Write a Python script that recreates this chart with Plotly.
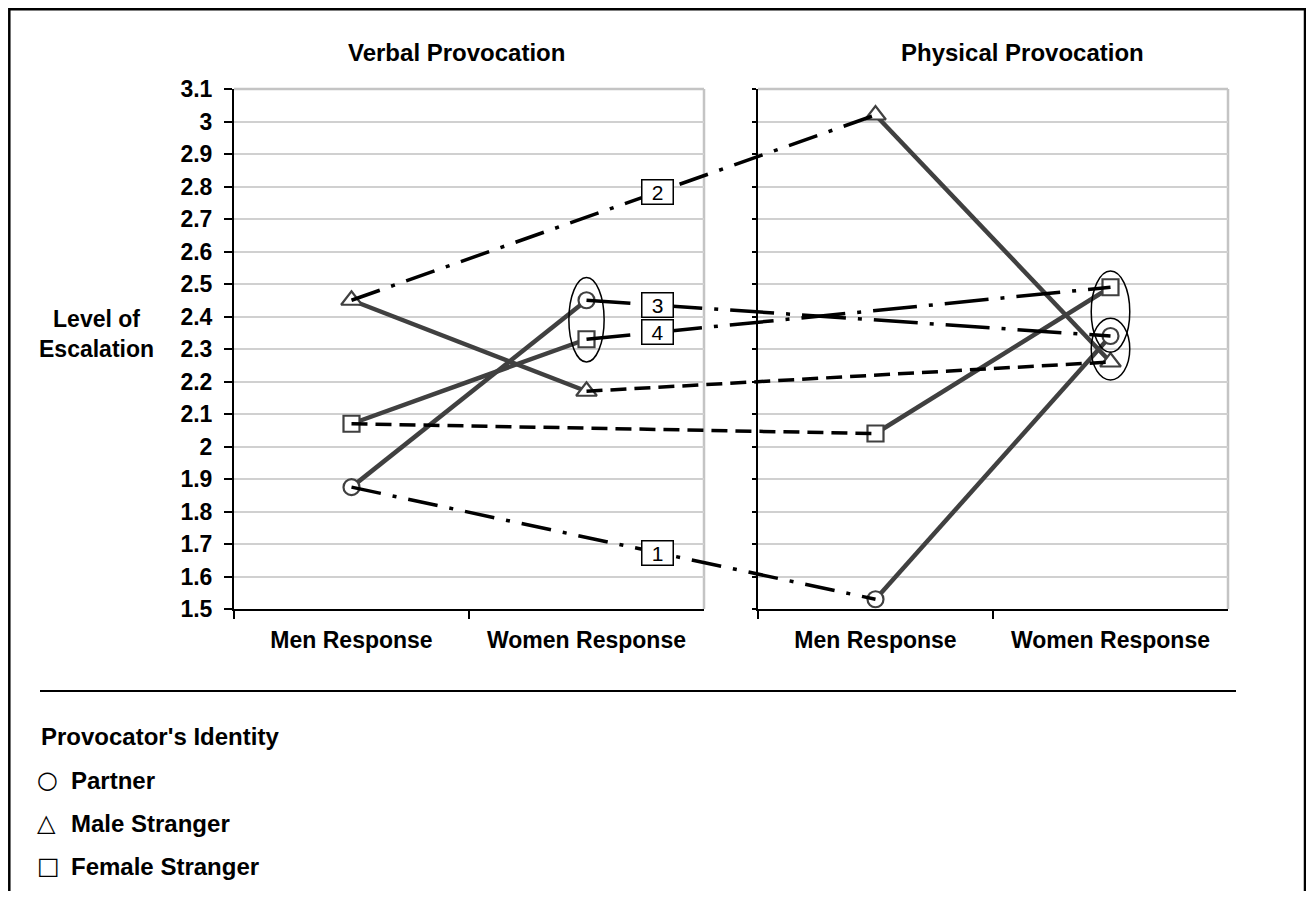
import numpy as np
import plotly.graph_objects as go

# window is 1314x899; the page body adds an 8px margin on every side
WIN_W, WIN_H = 1314, 899
OFF = 8
W, H = WIN_W - 2 * OFF, WIN_H - 2 * OFF

# ---------------- data ----------------
categories = ["Men Response", "Women Response"]
panel_titles = ["Verbal Provocation", "Physical Provocation"]
identities = ["Partner", "Male Stranger", "Female Stranger"]
identity_symbols = ["circle", "triangle-up", "square"]
legend_glyphs = ["\u25cb", "\u25b3", "\u25a1"]

verbal_partner = [1.875, 2.45]
verbal_male = [2.45, 2.17]
verbal_female = [2.07, 2.33]
physical_partner = [1.53, 2.34]
physical_male = [3.02, 2.26]
physical_female = [2.04, 2.49]

y_tick_values = [1.5, 1.6, 1.7, 1.8, 1.9, 2.0, 2.1, 2.2, 2.3, 2.4, 2.5,
                 2.6, 2.7, 2.8, 2.9, 3.0, 3.1]
y_tick_labels = ["1.5", "1.6", "1.7", "1.8", "1.9", "2", "2.1", "2.2", "2.3",
                 "2.4", "2.5", "2.6", "2.7", "2.8", "2.9", "3", "3.1"]

verbal = {"Partner": verbal_partner, "Male Stranger": verbal_male,
          "Female Stranger": verbal_female}
physical = {"Partner": physical_partner, "Male Stranger": physical_male,
            "Female Stranger": physical_female}

# cross-panel connections: (identity, category index, label, dash)
connections = [
    ("Partner", 0, "1", "30px,12px,4px,12px"),
    ("Male Stranger", 0, "2", "30px,12px,4px,12px"),
    ("Partner", 1, "3", "44px,12px,4px,12px"),
    ("Female Stranger", 1, "4", "44px,12px,4px,12px"),
    ("Female Stranger", 0, None, "16px,8px"),
    ("Male Stranger", 1, None, "16px,8px"),
]
label_x_offset = 0.30  # label boxes sit 0.30 category units right of Women (verbal)

# highlight ellipses: (panel, category index, identities enclosed, pad, half width)
ellipses = [
    (0, 1, ["Partner", "Female Stranger"], 0.07, 0.075),
    (1, 1, ["Partner", "Female Stranger"], 0.05, 0.082),
    (1, 1, ["Partner", "Male Stranger"], 0.055, 0.082),
]

# ---------------- geometry (window pixels) ----------------
L0, L1 = 234, 704
R0, R1 = 758, 1228
T, B = 89, 609
unit = (L1 - L0) / 2.0
shift = (R0 - L0) / unit


def px(x):
    return (x - OFF) / W


def py(y):
    return 1 - (y - OFF) / H


def cat_pos(panel, ci):
    return ci + panel * shift


FONT = "Liberation Sans, Arial, sans-serif"
DARK = "#404040"

fig = go.Figure()

panel_data = [verbal, physical]
axes = [("x", "y"), ("x2", "y2")]
for p in range(2):
    for ident, sym in zip(identities, identity_symbols):
        fig.add_trace(go.Scatter(
            x=categories, y=panel_data[p][ident], xaxis=axes[p][0], yaxis=axes[p][1],
            mode="lines+markers", showlegend=False, hoverinfo="skip",
            line=dict(color=DARK, width=4.5),
            marker=dict(symbol=sym, size=18 if "triangle" in sym else 16,
                        color="white", line=dict(color=DARK, width=2.2)),
        ))

annotations = []
for ident, ci, lab, dash in connections:
    xs = [cat_pos(0, ci), cat_pos(1, ci)]
    ys = [verbal[ident][ci], physical[ident][ci]]
    fig.add_trace(go.Scatter(
        x=xs, y=ys, xaxis="x3", yaxis="y3", mode="lines", showlegend=False,
        hoverinfo="skip", line=dict(color="black", width=3.5, dash=dash),
    ))
    if lab is not None:
        lx = cat_pos(0, 1) + label_x_offset
        ly = float(np.interp(lx, xs, ys))
        annotations.append(dict(
            x=lx, y=ly, xref="x3", yref="y3", text=lab, showarrow=False,
            font=dict(family=FONT, size=21, color="black"),
            bgcolor="white", bordercolor="black", borderwidth=1.5,
            borderpad=1, width=28, height=21, xanchor="center", yanchor="middle",
        ))

shapes = []
for p, ci, members, pad, hw in ellipses:
    vals = [panel_data[p][m][ci] for m in members]
    cx = cat_pos(p, ci)
    shapes.append(dict(type="circle", xref="x3", yref="y3",
                       x0=cx - hw, x1=cx + hw, y0=min(vals) - pad, y1=max(vals) + pad,
                       line=dict(color="black", width=1.5), layer="above"))

# gray plot-area borders (top and right) for each panel
for xa, ya in axes:
    shapes.append(dict(type="line", xref=f"{xa} domain", yref=f"{ya} domain",
                       x0=1, x1=1, y0=0, y1=1, line=dict(color="#c4c4c4", width=2.5),
                       layer="below"))
    shapes.append(dict(type="line", xref=f"{xa} domain", yref=f"{ya} domain",
                       x0=0, x1=1, y0=1, y1=1, line=dict(color="#c4c4c4", width=2.5),
                       layer="below"))

# outer frame (open at the bottom) and separator
shapes.append(dict(type="rect", xref="paper", yref="paper", x0=px(9.3), x1=px(1305),
                   y0=-0.05, y1=py(9.3), line=dict(color="black", width=2.5)))
shapes.append(dict(type="line", xref="paper", yref="paper", x0=px(40), x1=px(1236),
                   y0=py(691), y1=py(691), line=dict(color="black", width=2)))

bold = dict(family=FONT, size=24, color="black", weight="bold")

# panel titles
for t, cx in zip(panel_titles, [456, 1022]):
    annotations.append(dict(x=px(cx), y=py(52), xref="paper", yref="paper", text=t,
                            showarrow=False, font=bold, xanchor="center",
                            yanchor="middle"))
# y-axis title
annotations.append(dict(x=px(96), y=py(334), xref="paper", yref="paper",
                        text="Level of<br>Escalation", showarrow=False,
                        font=dict(bold, size=23), xanchor="center", yanchor="middle",
                        align="center"))

# legend block
annotations.append(dict(x=px(39), y=py(736), xref="paper", yref="paper",
                        text="Provocator's Identity", showarrow=False, font=bold,
                        xanchor="left", yanchor="middle"))
for i, (g, name) in enumerate(zip(legend_glyphs, identities)):
    yy = 780 + i * 43
    annotations.append(dict(x=px(35), y=py(yy), xref="paper", yref="paper", text=g,
                            showarrow=False,
                            font=dict(family="DejaVu Sans", size=24, color="black"),
                            xanchor="left", yanchor="middle"))
    annotations.append(dict(x=px(69), y=py(yy), xref="paper", yref="paper", text=name,
                            showarrow=False, font=bold, xanchor="left",
                            yanchor="middle"))

xcommon = dict(type="category", categoryorder="array", categoryarray=categories,
               range=[-0.5, 1.5], tickson="boundaries", ticks="outside", ticklen=8,
               tickwidth=2, tickcolor="black", showline=True, linecolor="black",
               linewidth=2, showgrid=False, zeroline=False,
               tickfont=dict(family=FONT, size=23, color="black", weight="bold"),
               ticklabelstandoff=9, fixedrange=True)
ycommon = dict(range=[1.5, 3.1], tickmode="array", tickvals=y_tick_values,
               ticktext=y_tick_labels, showgrid=True, gridcolor="#d0d0d0",
               gridwidth=1.5, showline=True, linecolor="black", linewidth=2,
               ticks="outside", tickwidth=2, tickcolor="black", zeroline=False,
               tickfont=dict(family=FONT, size=23, color="black", weight="bold"),
               fixedrange=True)

fig.update_layout(
    width=W, height=H,
    margin=dict(l=0, r=0, t=0, b=0, pad=0, autoexpand=False),
    paper_bgcolor="white", plot_bgcolor="rgba(0,0,0,0)", showlegend=False,
    xaxis=dict(xcommon, domain=[px(L0), px(L1)], anchor="y"),
    xaxis2=dict(xcommon, domain=[px(R0), px(R1)], anchor="y2"),
    yaxis=dict(ycommon, domain=[py(B), py(T)], anchor="x", ticklen=8,
               ticklabelstandoff=7),
    yaxis2=dict(ycommon, domain=[py(B), py(T)], anchor="x2", ticklen=4,
                showticklabels=False),
    xaxis3=dict(domain=[px(L0), px(R1)], range=[-0.5, -0.5 + (R1 - L0) / unit],
                anchor="y3", visible=False, fixedrange=True),
    yaxis3=dict(domain=[py(B), py(T)], range=[1.5, 3.1], anchor="x3", visible=False,
                fixedrange=True),
    annotations=annotations, shapes=shapes,
)

fig.write_html("out.html")
